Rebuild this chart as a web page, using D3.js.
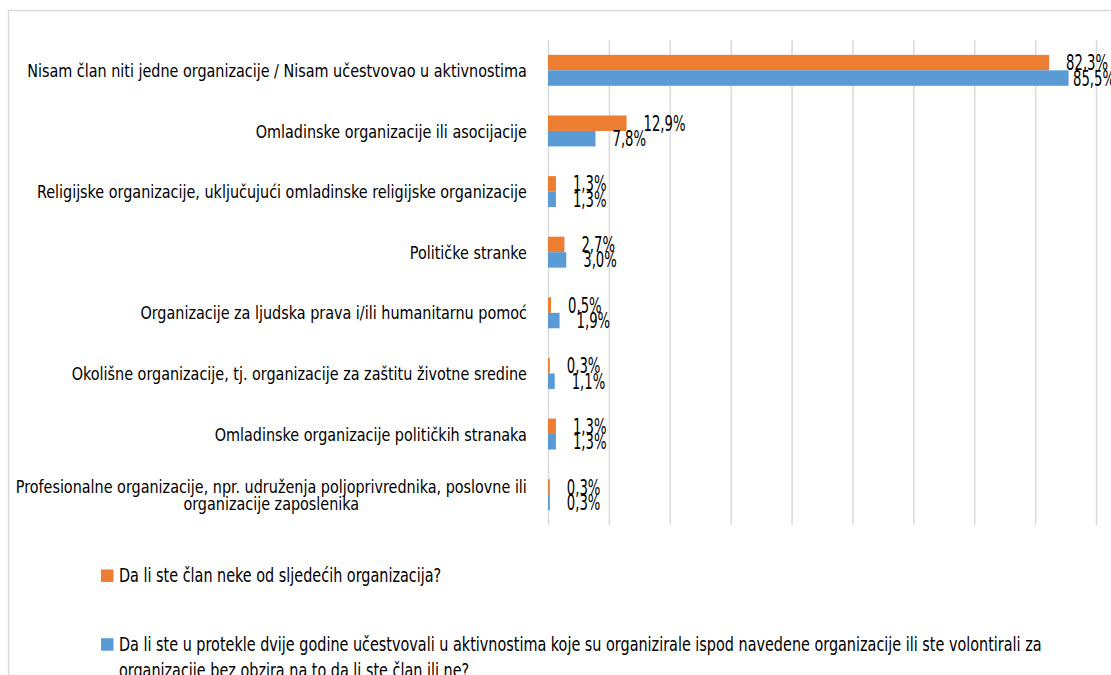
<!DOCTYPE html>
<meta charset="utf-8">
<html>
<style>
	body { margin: 0; background: #fff; }
	text { font-family: "Liberation Sans Narrow", "DejaVu Sans Condensed", "Liberation Sans", sans-serif; fill: #000; }
</style>
<body>
<div id="plot_bar"></div>
<script src="https://d3js.org/d3.v7.min.js"></script>
<script>
	// -----Data-----
	const categories = [
		"Nisam član niti jedne organizacije / Nisam učestvovao u aktivnostima",
		"Omladinske organizacije ili asocijacije",
		"Religijske organizacije, uključujući omladinske religijske organizacije",
		"Političke stranke",
		"Organizacije za ljudska prava i/ili humanitarnu pomoć",
		"Okolišne organizacije, tj. organizacije za zaštitu životne sredine",
		"Omladinske organizacije političkih stranaka",
		"Profesionalne organizacije, npr. udruženja poljoprivrednika, poslovne ili\norganizacije zaposlenika"
	]
	const member_values = [82.3, 12.9, 1.3, 2.7, 0.5, 0.3, 1.3, 0.3]
	const activity_values = [85.5, 7.8, 1.3, 3.0, 1.9, 1.1, 1.3, 0.3]
	const series_names = [
		"Da li ste član neke od sljedećih organizacija?",
		"Da li ste u protekle dvije godine učestvovali u aktivnostima koje su organizirale ispod navedene organizacije ili ste volontirali za\norganizacije bez obzira na to da li ste član ili ne?"
	]
	const series_keys = ["member", "activity"]
	const series_colours = ["#ED7D31", "#5B9BD5"]
	const x_ticks = [0, 10, 20, 30, 40, 50, 60, 70, 80, 90]

	const W = 1111, H = 675
	const plot = {left: 548, right: 1096, top: 40, bottom: 525}

	const svg = d3.select("#plot_bar").append("svg")
		.attr("width", W).attr("height", H)

	// chart border (runs off the right and bottom edge)
	svg.append("rect")
		.attr("x", 8.5).attr("y", 10.5)
		.attr("width", 1300).attr("height", 900)
		.attr("fill", "none").attr("stroke", "#d9d9d9").attr("stroke-width", 1.5)

	// -----Scales-----
	const x = d3.scaleLinear().domain([0, 90]).range([plot.left, plot.right])
	const y0 = d3.scaleBand().domain(categories)
		.range([plot.top, plot.bottom]).paddingInner(0.49).paddingOuter(0.245)
	const y1 = d3.scaleBand().domain(series_keys).range([0, y0.bandwidth()])

	// gridlines
	const grid = svg.append("g")
		.attr("transform", "translate(0," + plot.bottom + ")")
		.call(d3.axisBottom(x).tickValues(x_ticks).tickSize(-(plot.bottom - plot.top)).tickFormat(""))
	grid.select(".domain").remove()
	grid.selectAll("line").attr("stroke", "#d9d9d9").attr("stroke-width", 1.5)

	// -----Bars-----
	const rows = categories.map((c, i) => ({cat: c, member: member_values[i], activity: activity_values[i]}))

	const groups = svg.selectAll("g.grp").data(rows).join("g")
		.attr("class", "grp")
		.attr("transform", d => "translate(0," + y0(d.cat) + ")")

	groups.selectAll("rect")
		.data(d => series_keys.map((k, j) => ({key: k, v: d[k], col: series_colours[j]})))
		.join("rect")
			.attr("x", x(0))
			.attr("y", d => y1(d.key))
			.attr("width", d => x(d.v) - x(0))
			.attr("height", y1.bandwidth())
			.attr("fill", d => d.col)

	// value labels
	const fmt = v => d3.format(".1f")(v).replace(".", ",") + "%"
	const label_max_x = 1073
	const val_size = 21
	const probe = svg.append("text").attr("font-size", val_size).text(fmt(12.9))
	const k_val = 42 / probe.node().getComputedTextLength()
	probe.remove()

	groups.selectAll("g.val")
		.data(d => series_keys.map(k => ({key: k, v: d[k]})))
		.join("g")
			.attr("class", "val")
			.attr("transform", d => "translate(" + Math.min(x(d.v) + 17, label_max_x) + "," + (y1(d.key) + y1.bandwidth() / 2) + ") scale(" + k_val + ",1)")
		.append("text")
			.attr("font-size", val_size)
			.attr("dy", "0.36em")
			.text(d => fmt(d.v))

	// -----Category labels-----
	const cat_size = 18.5, cat_line = 17.3, cat_right = 527
	const cat_layer = svg.append("g").attr("font-size", cat_size)
	const cat_groups = categories.map(c => {
		const lines = c.split("\n")
		const g = cat_layer.append("g")
		const texts = lines.map((l, j) => g.append("text")
			.attr("y", (j - (lines.length - 1) / 2) * cat_line)
			.attr("dy", "0.36em")
			.attr("text-anchor", "middle")
			.text(l))
		return {c, g, texts}
	})
	const k_cat = 500 / cat_groups[0].texts[0].node().getComputedTextLength()
	cat_groups.forEach(o => {
		const block = d3.max(o.texts, t => t.node().getComputedTextLength())
		o.texts.forEach(t => t.attr("x", -block / 2))
		o.g.attr("transform", "translate(" + cat_right + "," + (y0(o.c) + y0.bandwidth() / 2) + ") scale(" + k_cat + ",1)")
	})

	// -----Legend-----
	const leg_size = 20, leg_line = 26.5
	const leg_baselines = [582, 650.7]
	const leg_layer = svg.append("g").attr("font-size", leg_size)
	const leg_texts = []
	series_names.forEach((name, i) => {
		leg_layer.append("rect")
			.attr("x", 101).attr("y", leg_baselines[i] - 12.5)
			.attr("width", 12.5).attr("height", 12.5)
			.attr("fill", series_colours[i])
		const g = leg_layer.append("g").attr("class", "legtxt")
		name.split("\n").forEach((l, j) => {
			leg_texts.push(g.append("text").attr("y", j * leg_line).text(l))
		})
		g.attr("data-y", leg_baselines[i])
	})
	const k_leg = 923 / leg_texts[1].node().getComputedTextLength()
	leg_layer.selectAll("g.legtxt")
		.attr("transform", function() { return "translate(119," + this.getAttribute("data-y") + ") scale(" + k_leg + ",1)" })
</script>
</body>
</html>
